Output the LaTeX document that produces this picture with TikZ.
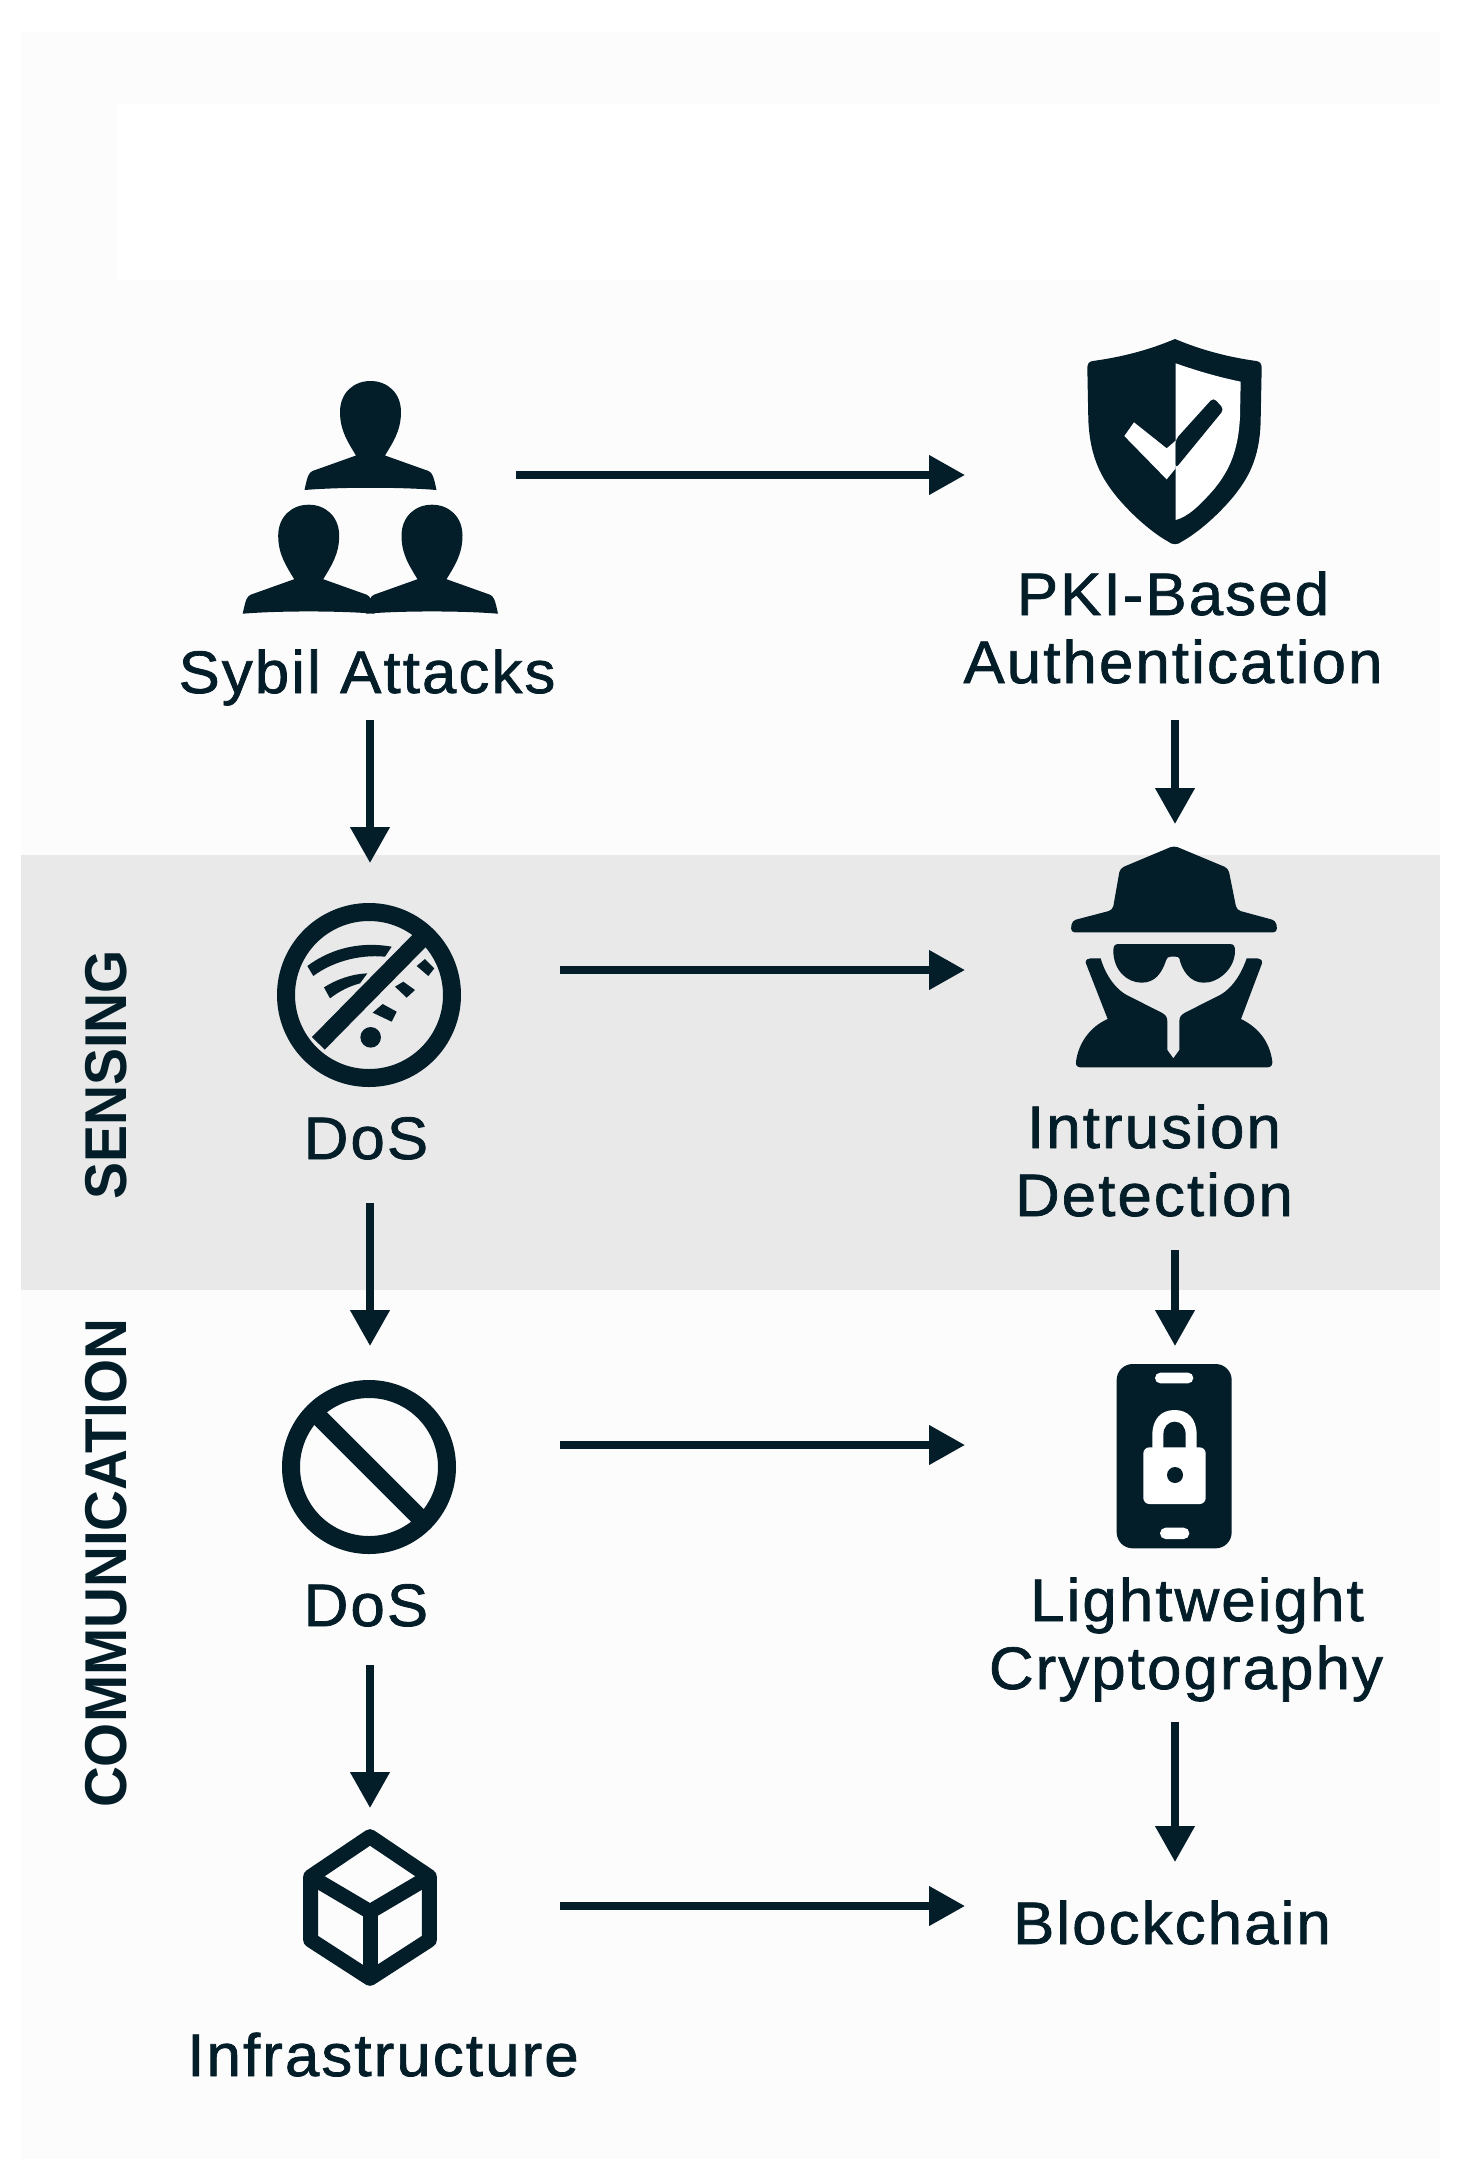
\documentclass[tikz,border=0pt]{standalone}
\usepackage{fontspec}
\usepackage{graphicx}
\setmainfont{Liberation Sans}[FakeStretch=1.03,FakeBold=1.2,LetterSpace=3.5]
\newfontfamily\sidefont{Liberation Sans}
\usetikzlibrary{arrows.meta}
\definecolor{ink}{HTML}{031D29}
\definecolor{panel}{HTML}{FCFCFC}
\definecolor{band}{HTML}{E9E9E9}
\tikzset{
  iconbox/.style={inner sep=0pt,outer sep=0pt},
  lab/.style={anchor=base,inner sep=0pt,outer sep=0pt,text=ink,font=\fontsize{60}{60}\selectfont},
  side/.style={rotate=90,inner sep=0pt,outer sep=0pt,text=ink,font=\sidefont\bfseries\fontsize{59}{59}\selectfont},
  conn/.style={draw=ink,line width=7.5pt,-{Triangle[length=36pt,width=38pt]},shorten >=0pt},
  zoomed/.style={x=0.33333pt,y=-0.33333pt},
}
\newcommand{\personicon}[2]{%
  \begin{scope}[shift={(#1,#2)}]
  \fill[ink] (-14.5,74.5) .. controls (-22,62) and (-30.5,50) .. (-30.5,31)
    .. controls (-30.5,12) and (-17,0) .. (0,0)
    .. controls (17,0) and (30.5,12) .. (30.5,31)
    .. controls (30.5,50) and (22,62) .. (14.5,74.5)
    -- (58,90) .. controls (62,92) and (63,95) .. (66,109)
    .. controls (30,106) and (-30,106) .. (-66,109)
    .. controls (-63,95) and (-62,92) .. (-58,90) -- cycle;
  \end{scope}}
\begin{document}
\begin{tikzpicture}[x=1pt,y=-1pt]
\useasboundingbox (0,0) rectangle (1467,2182);
\fill[white] (0,0) rectangle (1467,2182);
\fill[panel] (21,32) rectangle (1440,2159);
\fill[white] (118,104) rectangle (1440,280);
\fill[band] (21,855) rectangle (1440,1290);

% connector anchors: invisible icon boxes
\node[iconbox,minimum width=292pt,minimum height=292pt] (sybil) at (370,475) {};
\node[iconbox,minimum width=420pt,minimum height=292pt] (pki) at (1175,475) {};
\node[iconbox,minimum width=380pt,minimum height=214pt] (dosa) at (370,970) {};
\node[iconbox,minimum width=420pt,minimum height=292pt] (spy) at (1175,970) {};
\node[iconbox,minimum width=380pt,minimum height=198pt] (dosb) at (370,1445) {};
\node[iconbox,minimum width=420pt,minimum height=198pt] (phone) at (1175,1445) {};
\node[iconbox,minimum width=380pt,minimum height=196pt] (cube) at (370,1906) {};
\node[iconbox,minimum width=420pt,minimum height=88pt] (chain) at (1175,1906) {};

% labels
\node[lab,text depth=27pt] (sybilL) at (367,693) {Sybil Attacks};
\node[lab] (pkiLa) at (1173,615) {PKI-Based};
\node[lab,text depth=37pt] (pkiLb) at (1173,683) {Authentication};
\node[lab,text depth=44pt] (dosaL) at (366,1159) {DoS};
\node[lab] (spyLa) at (1154,1148) {Intrusion};
\node[lab,text depth=34pt] (spyLb) at (1154,1216) {Detection};
\node[lab,text depth=39pt] (dosbL) at (366,1626) {DoS};
\node[lab] (phoneLa) at (1197,1621) {Lightweight};
\node[lab,text depth=33pt] (phoneLb) at (1186,1689) {Cryptography};
\node[lab] (chainL) at (1172,1944) {Blockchain};
\node[lab] (cubeL) at (383,2076) {Infrastructure};
\node[side] (sensing) at (106,1075) {\scalebox{0.94}[1]{SENSING}};
\node[side] (comm) at (106,1563) {\scalebox{0.96}[1]{COMMUNICATION}};

% connectors
\draw[conn] (sybil.east) -- (pki.west);
\draw[conn] (dosa.east) -- (spy.west);
\draw[conn] (dosb.east) -- (phone.west);
\draw[conn] (cube.east) -- (chain.west);
\draw[conn] (sybilL.south -| sybil.center) -- (dosa.north);
\draw[conn] (dosaL.south -| dosa.center) -- (dosb.north);
\draw[conn] (dosbL.south -| dosb.center) -- (cube.north);
\draw[conn] (pkiLb.south -| pki.center) -- (spy.north);
\draw[conn] (spyLb.south -| spy.center) -- (phone.north);
\draw[conn] (phoneLb.south -| phone.center) -- (chain.north);

% people
\personicon{370.5}{381}
\personicon{308.7}{504.7}
\personicon{432}{504.7}

% shield
\begin{scope}[shift={(1000,320)},zoomed]
\fill[ink] (525,57) .. controls (470,80) and (390,108) .. (278,123)
  .. controls (266,125) and (262,132) .. (262,145)
  -- (265,300) .. controls (270,420) and (310,480) .. (350,530)
  .. controls (400,590) and (460,640) .. (505,665)
  .. controls (515,675) and (535,675) .. (545,665)
  .. controls (590,640) and (650,590) .. (700,530)
  .. controls (740,480) and (780,420) .. (782,300)
  -- (785,145) .. controls (785,132) and (781,125) .. (769,123)
  .. controls (660,108) and (580,80) .. (525,57) -- cycle;
\fill[white] (527,130) .. controls (590,152) and (650,170) .. (722,185)
  -- (720,290) .. controls (715,390) and (690,450) .. (640,510)
  .. controls (600,555) and (565,590) .. (527,600) -- cycle;
\fill[white] (373,348) -- (402,307) -- (500,385) -- (527,362) -- (527,445) -- (500,478) -- cycle;
\fill[ink,rounded corners=4pt] (527,358) -- (640,233) -- (672,268) -- (527,445) -- cycle;
\end{scope}

% no-wifi
\begin{scope}[shift={(250,880)},zoomed]
\draw[ink,line width=18pt] (357,345) circle[radius=83pt];
\draw[ink,line width=18pt] (510,180) -- (205,490);
\fill[ink] (172,258) -- (190,288) .. controls (240,250) and (320,222) .. (405,230)
  -- (425,200) .. controls (340,185) and (250,200) .. (172,258) -- cycle;
\fill[ink] (222,322) -- (240,355) .. controls (270,332) and (300,318) .. (330,310)
  -- (352,280) .. controls (305,282) and (260,298) .. (222,322) -- cycle;
\fill[ink] (500,258) -- (525,237) -- (553,265) -- (535,288) -- cycle;
\fill[ink] (435,320) -- (460,305) -- (495,330) -- (470,353) -- cycle;
\fill[ink] (368,398) -- (398,372) -- (440,395) -- (425,425) -- cycle;
\fill[ink] (362,472) circle[radius=10.3pt];
\end{scope}

% spy
\begin{scope}[shift={(1040,830)},zoomed]
\fill[ink,rounded corners=4pt] (402,47) -- (565,115) -- (590,240) -- (708,272) -- (712,307)
  -- (92,307) -- (96,272) -- (218,240) -- (240,115) -- cycle;
\fill[ink] (235,342) -- (570,342) .. controls (582,342) and (585,350) .. (585,362)
  .. controls (585,420) and (530,460) .. (490,458)
  .. controls (450,458) and (425,420) .. (418,385) .. controls (416,380) and (412,380) .. (405,380)
  -- (392,380) .. controls (385,380) and (382,382) .. (378,392)
  .. controls (365,430) and (345,458) .. (305,458)
  .. controls (260,458) and (220,420) .. (220,362)
  .. controls (220,350) and (223,342) .. (235,342) -- cycle;
\fill[ink] (137,398) .. controls (137,388) and (145,385) .. (152,385) -- (182,385)
  .. controls (190,415) and (215,470) .. (260,495)
  -- (365,548) .. controls (378,555) and (382,562) .. (382,575)
  -- (382,660) -- (400,685) -- (418,660) -- (418,575)
  .. controls (418,562) and (422,555) .. (435,548)
  -- (540,495) .. controls (585,470) and (610,415) .. (620,385)
  -- (652,385) .. controls (660,385) and (668,390) .. (666,400)
  -- (603,567) .. controls (660,595) and (690,640) .. (697,695)
  .. controls (698,706) and (692,712) .. (682,712)
  -- (122,712) .. controls (112,712) and (106,706) .. (108,695)
  .. controls (115,640) and (150,590) .. (203,567) -- cycle;
\end{scope}

% prohibition sign
\draw[ink,line width=18pt] (369,1467) circle[radius=78pt];
\draw[ink,line width=18pt] (314,1412) -- (424,1522);

% phone
\begin{scope}[shift={(1090,1350)},zoomed]
\fill[ink,rounded corners=16pt] (80,42) rectangle (425,595);
\fill[white,rounded corners=5.3pt] (195,68) rectangle (310,100);
\fill[white,rounded corners=5.6pt] (210,533) rectangle (298,567);
\fill[white] (187,300) -- (187,255) .. controls (187,205) and (215,180) .. (254,180)
  .. controls (293,180) and (320,205) .. (320,255) -- (320,300) -- cycle;
\fill[ink] (220,300) -- (220,255) .. controls (220,230) and (235,215) .. (254,215)
  .. controls (273,215) and (287,230) .. (287,255) -- (287,300) -- cycle;
\fill[white,rounded corners=6pt] (160,292) rectangle (347,462);
\fill[ink] (255,375) circle[radius=8pt];
\end{scope}

% cube
\begin{scope}[shift={(270,1810)},zoomed]
\draw[ink,line width=15pt,line join=round] (300,80) -- (478,200) -- (478,390) -- (300,505) -- (122,390) -- (122,200) -- cycle;
\draw[ink,line width=15pt,line join=round] (122,200) -- (300,305) -- (478,200);
\draw[ink,line width=15pt] (300,305) -- (300,505);
\end{scope}
\end{tikzpicture}
\end{document}
